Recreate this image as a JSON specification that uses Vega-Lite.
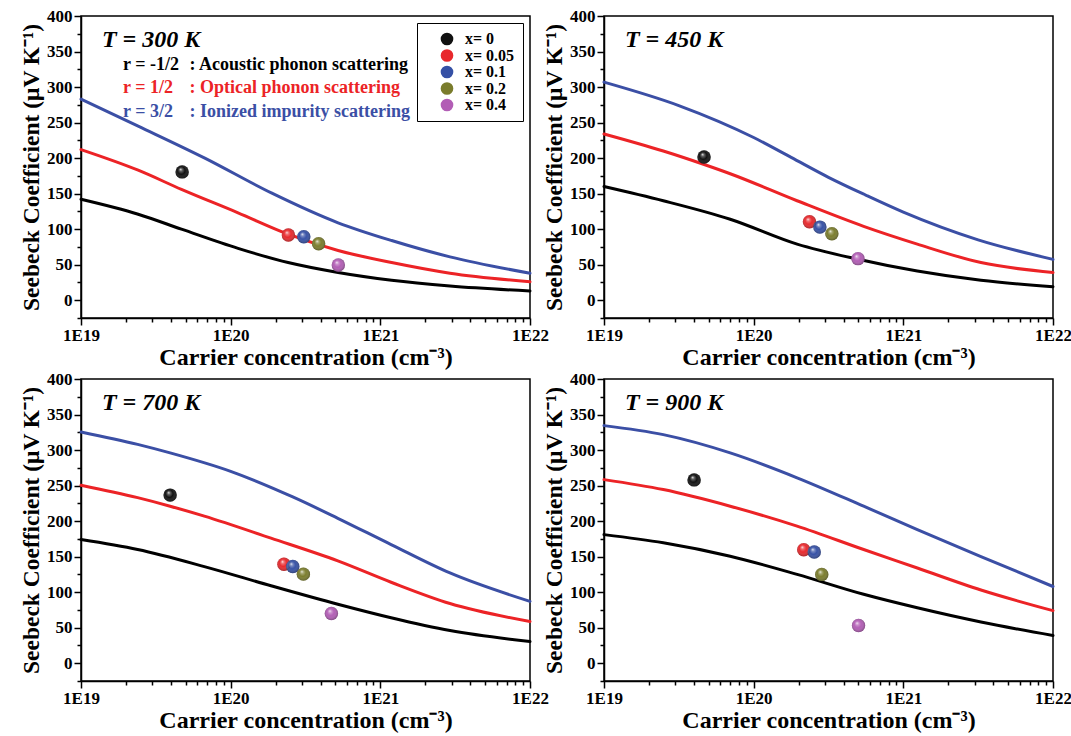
{
  "$schema": "https://vega.github.io/schema/vega-lite/v6.json",
  "background": "white",
  "padding": {"left": 18, "top": 6, "right": 5, "bottom": 5},
  "datasets": {
    "curves": [
      {"T": "300 K", "r": "-1/2", "n": 1e19, "S": 142},
      {"T": "300 K", "r": "-1/2", "n": 2.41e19, "S": 121},
      {"T": "300 K", "r": "-1/2", "n": 4.69e19, "S": 100},
      {"T": "300 K", "r": "-1/2", "n": 1.12e20, "S": 73},
      {"T": "300 K", "r": "-1/2", "n": 2.42e20, "S": 53},
      {"T": "300 K", "r": "-1/2", "n": 5.22e20, "S": 39},
      {"T": "300 K", "r": "-1/2", "n": 1.19e21, "S": 28},
      {"T": "300 K", "r": "-1/2", "n": 2.92e21, "S": 20},
      {"T": "300 K", "r": "-1/2", "n": 1e22, "S": 13},
      {"T": "300 K", "r": "1/2", "n": 1e19, "S": 212},
      {"T": "300 K", "r": "1/2", "n": 2.41e19, "S": 183},
      {"T": "300 K", "r": "1/2", "n": 4.69e19, "S": 156},
      {"T": "300 K", "r": "1/2", "n": 1.12e20, "S": 123},
      {"T": "300 K", "r": "1/2", "n": 2.42e20, "S": 93},
      {"T": "300 K", "r": "1/2", "n": 5.22e20, "S": 70},
      {"T": "300 K", "r": "1/2", "n": 1.19e21, "S": 53},
      {"T": "300 K", "r": "1/2", "n": 2.92e21, "S": 38},
      {"T": "300 K", "r": "1/2", "n": 1e22, "S": 26},
      {"T": "300 K", "r": "3/2", "n": 1e19, "S": 283},
      {"T": "300 K", "r": "3/2", "n": 2.41e19, "S": 245},
      {"T": "300 K", "r": "3/2", "n": 6.72e19, "S": 200},
      {"T": "300 K", "r": "3/2", "n": 1.87e20, "S": 151},
      {"T": "300 K", "r": "3/2", "n": 5.22e20, "S": 109},
      {"T": "300 K", "r": "3/2", "n": 1.19e21, "S": 84},
      {"T": "300 K", "r": "3/2", "n": 2.92e21, "S": 61},
      {"T": "300 K", "r": "3/2", "n": 1e22, "S": 38},

      {"T": "450 K", "r": "-1/2", "n": 1e19, "S": 160},
      {"T": "450 K", "r": "-1/2", "n": 2.49e19, "S": 140},
      {"T": "450 K", "r": "-1/2", "n": 6.97e19, "S": 114},
      {"T": "450 K", "r": "-1/2", "n": 1.95e20, "S": 79},
      {"T": "450 K", "r": "-1/2", "n": 4.9e20, "S": 58},
      {"T": "450 K", "r": "-1/2", "n": 1.24e21, "S": 41},
      {"T": "450 K", "r": "-1/2", "n": 3.3e21, "S": 28},
      {"T": "450 K", "r": "-1/2", "n": 1e22, "S": 19},
      {"T": "450 K", "r": "1/2", "n": 1e19, "S": 234},
      {"T": "450 K", "r": "1/2", "n": 2.49e19, "S": 210},
      {"T": "450 K", "r": "1/2", "n": 4.67e19, "S": 191},
      {"T": "450 K", "r": "1/2", "n": 6.97e19, "S": 178},
      {"T": "450 K", "r": "1/2", "n": 1.95e20, "S": 140},
      {"T": "450 K", "r": "1/2", "n": 5.43e20, "S": 104},
      {"T": "450 K", "r": "1/2", "n": 1.24e21, "S": 79},
      {"T": "450 K", "r": "1/2", "n": 3.3e21, "S": 53},
      {"T": "450 K", "r": "1/2", "n": 1e22, "S": 39},
      {"T": "450 K", "r": "3/2", "n": 1e19, "S": 307},
      {"T": "450 K", "r": "3/2", "n": 3.16e19, "S": 274},
      {"T": "450 K", "r": "3/2", "n": 1e20, "S": 229},
      {"T": "450 K", "r": "3/2", "n": 1.78e20, "S": 201},
      {"T": "450 K", "r": "3/2", "n": 3.16e20, "S": 173},
      {"T": "450 K", "r": "3/2", "n": 5.6e20, "S": 148},
      {"T": "450 K", "r": "3/2", "n": 1e21, "S": 124},
      {"T": "450 K", "r": "3/2", "n": 3.16e21, "S": 85},
      {"T": "450 K", "r": "3/2", "n": 1e22, "S": 57.5},

      {"T": "700 K", "r": "-1/2", "n": 1e19, "S": 174},
      {"T": "700 K", "r": "-1/2", "n": 2.39e19, "S": 160},
      {"T": "700 K", "r": "-1/2", "n": 6.67e19, "S": 136},
      {"T": "700 K", "r": "-1/2", "n": 1.86e20, "S": 109},
      {"T": "700 K", "r": "-1/2", "n": 5.2e20, "S": 83},
      {"T": "700 K", "r": "-1/2", "n": 1.18e21, "S": 64},
      {"T": "700 K", "r": "-1/2", "n": 2.92e21, "S": 46},
      {"T": "700 K", "r": "-1/2", "n": 1e22, "S": 30.5},
      {"T": "700 K", "r": "1/2", "n": 1e19, "S": 250.5},
      {"T": "700 K", "r": "1/2", "n": 2.39e19, "S": 233},
      {"T": "700 K", "r": "1/2", "n": 3.94e19, "S": 221},
      {"T": "700 K", "r": "1/2", "n": 6.67e19, "S": 207},
      {"T": "700 K", "r": "1/2", "n": 1.86e20, "S": 176},
      {"T": "700 K", "r": "1/2", "n": 5.2e20, "S": 144},
      {"T": "700 K", "r": "1/2", "n": 1.18e21, "S": 114},
      {"T": "700 K", "r": "1/2", "n": 2.92e21, "S": 84},
      {"T": "700 K", "r": "1/2", "n": 1e22, "S": 58.7},
      {"T": "700 K", "r": "3/2", "n": 1e19, "S": 325.5},
      {"T": "700 K", "r": "3/2", "n": 2.39e19, "S": 308},
      {"T": "700 K", "r": "3/2", "n": 3.94e19, "S": 296},
      {"T": "700 K", "r": "3/2", "n": 1e20, "S": 270},
      {"T": "700 K", "r": "3/2", "n": 2.6e20, "S": 234},
      {"T": "700 K", "r": "3/2", "n": 5.2e20, "S": 204},
      {"T": "700 K", "r": "3/2", "n": 1.18e21, "S": 167},
      {"T": "700 K", "r": "3/2", "n": 2.92e21, "S": 127},
      {"T": "700 K", "r": "3/2", "n": 1e22, "S": 87},

      {"T": "900 K", "r": "-1/2", "n": 1e19, "S": 181},
      {"T": "900 K", "r": "-1/2", "n": 2.49e19, "S": 169.5},
      {"T": "900 K", "r": "-1/2", "n": 6.97e19, "S": 150.6},
      {"T": "900 K", "r": "-1/2", "n": 1.95e20, "S": 125},
      {"T": "900 K", "r": "-1/2", "n": 5.43e20, "S": 97},
      {"T": "900 K", "r": "-1/2", "n": 1.24e21, "S": 78},
      {"T": "900 K", "r": "-1/2", "n": 3.3e21, "S": 58},
      {"T": "900 K", "r": "-1/2", "n": 1e22, "S": 39},
      {"T": "900 K", "r": "1/2", "n": 1e19, "S": 258.4},
      {"T": "900 K", "r": "1/2", "n": 2.49e19, "S": 244.4},
      {"T": "900 K", "r": "1/2", "n": 6.97e19, "S": 221},
      {"T": "900 K", "r": "1/2", "n": 1.95e20, "S": 193},
      {"T": "900 K", "r": "1/2", "n": 5.43e20, "S": 160},
      {"T": "900 K", "r": "1/2", "n": 1.24e21, "S": 134},
      {"T": "900 K", "r": "1/2", "n": 3.3e21, "S": 103},
      {"T": "900 K", "r": "1/2", "n": 1e22, "S": 74},
      {"T": "900 K", "r": "3/2", "n": 1e19, "S": 334.4},
      {"T": "900 K", "r": "3/2", "n": 2.49e19, "S": 321.7},
      {"T": "900 K", "r": "3/2", "n": 6.97e19, "S": 296},
      {"T": "900 K", "r": "3/2", "n": 1.95e20, "S": 261},
      {"T": "900 K", "r": "3/2", "n": 5.43e20, "S": 221},
      {"T": "900 K", "r": "3/2", "n": 1.24e21, "S": 188},
      {"T": "900 K", "r": "3/2", "n": 3.3e21, "S": 150},
      {"T": "900 K", "r": "3/2", "n": 1e22, "S": 108}
    ],
    "samples": [
      {"T": "300 K", "sample": "0", "n": 4.74e19, "S": 180.6},
      {"T": "300 K", "sample": "0.05", "n": 2.43e20, "S": 91.7},
      {"T": "300 K", "sample": "0.1", "n": 3.08e20, "S": 89.4},
      {"T": "300 K", "sample": "0.2", "n": 3.87e20, "S": 79.5},
      {"T": "300 K", "sample": "0.4", "n": 5.24e20, "S": 49.6},
      {"T": "450 K", "sample": "0", "n": 4.66e19, "S": 201.6},
      {"T": "450 K", "sample": "0.05", "n": 2.36e20, "S": 110.4},
      {"T": "450 K", "sample": "0.1", "n": 2.77e20, "S": 102.9},
      {"T": "450 K", "sample": "0.2", "n": 3.33e20, "S": 93.6},
      {"T": "450 K", "sample": "0.4", "n": 4.98e20, "S": 58.5},
      {"T": "700 K", "sample": "0", "n": 3.94e19, "S": 236.6},
      {"T": "700 K", "sample": "0.05", "n": 2.27e20, "S": 139.4},
      {"T": "700 K", "sample": "0.1", "n": 2.6e20, "S": 136.2},
      {"T": "700 K", "sample": "0.2", "n": 3.06e20, "S": 125.4},
      {"T": "700 K", "sample": "0.4", "n": 4.71e20, "S": 70},
      {"T": "900 K", "sample": "0", "n": 4.0e19, "S": 258},
      {"T": "900 K", "sample": "0.05", "n": 2.16e20, "S": 159.8},
      {"T": "900 K", "sample": "0.1", "n": 2.54e20, "S": 156.5},
      {"T": "900 K", "sample": "0.2", "n": 2.85e20, "S": 125},
      {"T": "900 K", "sample": "0.4", "n": 5.02e20, "S": 53}
    ]
  },
  "columns": 2,
  "bounds": "flush",
  "spacing": {"row": 61, "column": 74},
  "resolve": {"scale": {"color": "independent", "stroke": "independent"}, "legend": {"color": "independent", "stroke": "independent"}},
  "concat": [
    {
      "width": 449, "height": 302,
      "layer": [
        {"data": {"name": "curves"}, "transform": [{"filter": "datum.T == '300 K'"}],
          "mark": {"type": "line", "strokeWidth": 3, "interpolate": "monotone", "strokeCap": "round"},
          "encoding": {
            "x": {"field": "n", "type": "quantitative", "title": "Carrier concentration (cm⁻³)", "scale": {"type": "log", "domain": [1e19, 1e22], "nice": false}, "axis": {"values": [1e19,2e19,3e19,4e19,5e19,6e19,7e19,8e19,9e19,1e20,2e20,3e20,4e20,5e20,6e20,7e20,8e20,9e20,1e21,2e21,3e21,4e21,5e21,6e21,7e21,8e21,9e21,1e22], "labelExpr": "datum.value == 1e19 ? '1E19' : datum.value == 1e20 ? '1E20' : datum.value == 1e21 ? '1E21' : datum.value == 1e22 ? '1E22' : ''", "tickSize": {"condition": {"test": "datum.value == 1e19 || datum.value == 1e20 || datum.value == 1e21 || datum.value == 1e22", "value": 7}, "value": 4}}},
            "y": {"field": "S", "type": "quantitative", "title": "Seebeck Coefficient (μV K⁻¹)", "scale": {"domain": [-25, 400], "nice": false, "zero": false}, "axis": {"values": [-25,0,25,50,75,100,125,150,175,200,225,250,275,300,325,350,375,400], "labelExpr": "datum.value >= 0 && datum.value % 50 == 0 ? datum.label : ''", "tickSize": {"condition": {"test": "datum.value % 50 == 0", "value": 7}, "value": 4}}},
            "stroke": {"field": "r", "type": "nominal", "scale": {"domain": ["-1/2", "1/2", "3/2"], "range": ["#000000", "#ec2326", "#3b4fa5"]}, "legend": null}}},
        {"data": {"name": "samples"}, "transform": [{"filter": "datum.T == '300 K'"}],
          "mark": {"type": "point", "shape": "circle", "filled": true, "size": 180, "opacity": 1, "strokeWidth": 0},
          "encoding": {
            "x": {"field": "n", "type": "quantitative", "title": "Carrier concentration (cm⁻³)", "scale": {"type": "log", "domain": [1e19, 1e22], "nice": false}, "axis": {"values": [1e19,2e19,3e19,4e19,5e19,6e19,7e19,8e19,9e19,1e20,2e20,3e20,4e20,5e20,6e20,7e20,8e20,9e20,1e21,2e21,3e21,4e21,5e21,6e21,7e21,8e21,9e21,1e22], "labelExpr": "datum.value == 1e19 ? '1E19' : datum.value == 1e20 ? '1E20' : datum.value == 1e21 ? '1E21' : datum.value == 1e22 ? '1E22' : ''", "tickSize": {"condition": {"test": "datum.value == 1e19 || datum.value == 1e20 || datum.value == 1e21 || datum.value == 1e22", "value": 7}, "value": 4}}},
            "y": {"field": "S", "type": "quantitative", "title": "Seebeck Coefficient (μV K⁻¹)", "scale": {"domain": [-25, 400], "nice": false, "zero": false}, "axis": {"values": [-25,0,25,50,75,100,125,150,175,200,225,250,275,300,325,350,375,400], "labelExpr": "datum.value >= 0 && datum.value % 50 == 0 ? datum.label : ''", "tickSize": {"condition": {"test": "datum.value % 50 == 0", "value": 7}, "value": 4}}},
            "color": {"field": "sample", "type": "nominal",
              "scale": {"domain": ["0", "0.05", "0.1", "0.2", "0.4"], "range": ["#111111", "#e8282c", "#3550a5", "#7a7c2c", "#b25db5"]},
              "legend": {"orient": "top-right", "offset": 7, "title": null, "padding": 8, "strokeColor": "black", "fillColor": "white",
                "symbolType": "circle", "symbolSize": 160, "symbolStrokeWidth": 0, "symbolOffset": 14, "labelOffset": 10,
                "labelFont": "Liberation Serif", "labelFontSize": 16, "labelFontWeight": "bold", "labelColor": "black",
                "rowPadding": 0.5, "labelExpr": "'x= ' + datum.label + '\u00a0\u00a0\u00a0'"}}}},
        {"data": {"name": "samples"}, "transform": [{"filter": "datum.T == '300 K'"}],
          "mark": {"type": "point", "shape": "circle", "filled": true, "size": 180, "opacity": 1, "strokeWidth": 0,
            "fill": {"gradient": "radial", "x1": 0.38, "y1": 0.3, "r1": 0, "x2": 0.5, "y2": 0.5, "r2": 0.55,
              "stops": [{"offset": 0, "color": "rgba(255,255,255,0.95)"}, {"offset": 0.2, "color": "rgba(255,255,255,0.35)"}, {"offset": 0.5, "color": "rgba(255,255,255,0)"}, {"offset": 1, "color": "rgba(0,0,0,0.4)"}]}},
          "encoding": {
            "x": {"field": "n", "type": "quantitative", "title": "Carrier concentration (cm⁻³)", "scale": {"type": "log", "domain": [1e19, 1e22], "nice": false}, "axis": {"values": [1e19,2e19,3e19,4e19,5e19,6e19,7e19,8e19,9e19,1e20,2e20,3e20,4e20,5e20,6e20,7e20,8e20,9e20,1e21,2e21,3e21,4e21,5e21,6e21,7e21,8e21,9e21,1e22], "labelExpr": "datum.value == 1e19 ? '1E19' : datum.value == 1e20 ? '1E20' : datum.value == 1e21 ? '1E21' : datum.value == 1e22 ? '1E22' : ''", "tickSize": {"condition": {"test": "datum.value == 1e19 || datum.value == 1e20 || datum.value == 1e21 || datum.value == 1e22", "value": 7}, "value": 4}}},
            "y": {"field": "S", "type": "quantitative", "title": "Seebeck Coefficient (μV K⁻¹)", "scale": {"domain": [-25, 400], "nice": false, "zero": false}, "axis": {"values": [-25,0,25,50,75,100,125,150,175,200,225,250,275,300,325,350,375,400], "labelExpr": "datum.value >= 0 && datum.value % 50 == 0 ? datum.label : ''", "tickSize": {"condition": {"test": "datum.value % 50 == 0", "value": 7}, "value": 4}}}}},
        {"data": {"values": [{}]},
          "mark": {"type": "text", "align": "left", "baseline": "middle", "font": "Liberation Serif", "fontSize": 24, "fontWeight": "bold", "fontStyle": "italic", "color": "black"},
          "encoding": {
            "x": {"datum": 1.38e19, "type": "quantitative", "title": "Carrier concentration (cm⁻³)", "scale": {"type": "log", "domain": [1e19, 1e22], "nice": false}, "axis": {"values": [1e19,2e19,3e19,4e19,5e19,6e19,7e19,8e19,9e19,1e20,2e20,3e20,4e20,5e20,6e20,7e20,8e20,9e20,1e21,2e21,3e21,4e21,5e21,6e21,7e21,8e21,9e21,1e22], "labelExpr": "datum.value == 1e19 ? '1E19' : datum.value == 1e20 ? '1E20' : datum.value == 1e21 ? '1E21' : datum.value == 1e22 ? '1E22' : ''", "tickSize": {"condition": {"test": "datum.value == 1e19 || datum.value == 1e20 || datum.value == 1e21 || datum.value == 1e22", "value": 7}, "value": 4}}},
            "y": {"datum": 366, "type": "quantitative", "title": "Seebeck Coefficient (μV K⁻¹)", "scale": {"domain": [-25, 400], "nice": false, "zero": false}, "axis": {"values": [-25,0,25,50,75,100,125,150,175,200,225,250,275,300,325,350,375,400], "labelExpr": "datum.value >= 0 && datum.value % 50 == 0 ? datum.label : ''", "tickSize": {"condition": {"test": "datum.value % 50 == 0", "value": 7}, "value": 4}}},
            "text": {"value": "T = 300 K"}}},
        {"data": {"values": [{}]},
          "mark": {"type": "text", "align": "left", "baseline": "middle", "font": "Liberation Serif", "fontSize": 18, "fontWeight": "bold", "color": "black"},
          "encoding": {
            "x": {"datum": 1.91e19, "type": "quantitative", "title": "Carrier concentration (cm⁻³)", "scale": {"type": "log", "domain": [1e19, 1e22], "nice": false}, "axis": {"values": [1e19,2e19,3e19,4e19,5e19,6e19,7e19,8e19,9e19,1e20,2e20,3e20,4e20,5e20,6e20,7e20,8e20,9e20,1e21,2e21,3e21,4e21,5e21,6e21,7e21,8e21,9e21,1e22], "labelExpr": "datum.value == 1e19 ? '1E19' : datum.value == 1e20 ? '1E20' : datum.value == 1e21 ? '1E21' : datum.value == 1e22 ? '1E22' : ''", "tickSize": {"condition": {"test": "datum.value == 1e19 || datum.value == 1e20 || datum.value == 1e21 || datum.value == 1e22", "value": 7}, "value": 4}}},
            "y": {"datum": 331, "type": "quantitative", "title": "Seebeck Coefficient (μV K⁻¹)", "scale": {"domain": [-25, 400], "nice": false, "zero": false}, "axis": {"values": [-25,0,25,50,75,100,125,150,175,200,225,250,275,300,325,350,375,400], "labelExpr": "datum.value >= 0 && datum.value % 50 == 0 ? datum.label : ''", "tickSize": {"condition": {"test": "datum.value % 50 == 0", "value": 7}, "value": 4}}},
            "text": {"value": "r = -1/2"}}},
        {"data": {"values": [{}]},
          "mark": {"type": "text", "align": "left", "baseline": "middle", "font": "Liberation Serif", "fontSize": 18, "fontWeight": "bold", "color": "black"},
          "encoding": {
            "x": {"datum": 5.31e19, "type": "quantitative", "title": "Carrier concentration (cm⁻³)", "scale": {"type": "log", "domain": [1e19, 1e22], "nice": false}, "axis": {"values": [1e19,2e19,3e19,4e19,5e19,6e19,7e19,8e19,9e19,1e20,2e20,3e20,4e20,5e20,6e20,7e20,8e20,9e20,1e21,2e21,3e21,4e21,5e21,6e21,7e21,8e21,9e21,1e22], "labelExpr": "datum.value == 1e19 ? '1E19' : datum.value == 1e20 ? '1E20' : datum.value == 1e21 ? '1E21' : datum.value == 1e22 ? '1E22' : ''", "tickSize": {"condition": {"test": "datum.value == 1e19 || datum.value == 1e20 || datum.value == 1e21 || datum.value == 1e22", "value": 7}, "value": 4}}},
            "y": {"datum": 331, "type": "quantitative", "title": "Seebeck Coefficient (μV K⁻¹)", "scale": {"domain": [-25, 400], "nice": false, "zero": false}, "axis": {"values": [-25,0,25,50,75,100,125,150,175,200,225,250,275,300,325,350,375,400], "labelExpr": "datum.value >= 0 && datum.value % 50 == 0 ? datum.label : ''", "tickSize": {"condition": {"test": "datum.value % 50 == 0", "value": 7}, "value": 4}}},
            "text": {"value": ": Acoustic phonon scattering"}}},
        {"data": {"values": [{}]},
          "mark": {"type": "text", "align": "left", "baseline": "middle", "font": "Liberation Serif", "fontSize": 18, "fontWeight": "bold", "color": "#ec2326"},
          "encoding": {
            "x": {"datum": 1.91e19, "type": "quantitative", "title": "Carrier concentration (cm⁻³)", "scale": {"type": "log", "domain": [1e19, 1e22], "nice": false}, "axis": {"values": [1e19,2e19,3e19,4e19,5e19,6e19,7e19,8e19,9e19,1e20,2e20,3e20,4e20,5e20,6e20,7e20,8e20,9e20,1e21,2e21,3e21,4e21,5e21,6e21,7e21,8e21,9e21,1e22], "labelExpr": "datum.value == 1e19 ? '1E19' : datum.value == 1e20 ? '1E20' : datum.value == 1e21 ? '1E21' : datum.value == 1e22 ? '1E22' : ''", "tickSize": {"condition": {"test": "datum.value == 1e19 || datum.value == 1e20 || datum.value == 1e21 || datum.value == 1e22", "value": 7}, "value": 4}}},
            "y": {"datum": 298.3, "type": "quantitative", "title": "Seebeck Coefficient (μV K⁻¹)", "scale": {"domain": [-25, 400], "nice": false, "zero": false}, "axis": {"values": [-25,0,25,50,75,100,125,150,175,200,225,250,275,300,325,350,375,400], "labelExpr": "datum.value >= 0 && datum.value % 50 == 0 ? datum.label : ''", "tickSize": {"condition": {"test": "datum.value % 50 == 0", "value": 7}, "value": 4}}},
            "text": {"value": "r = 1/2"}}},
        {"data": {"values": [{}]},
          "mark": {"type": "text", "align": "left", "baseline": "middle", "font": "Liberation Serif", "fontSize": 18, "fontWeight": "bold", "color": "#ec2326"},
          "encoding": {
            "x": {"datum": 5.31e19, "type": "quantitative", "title": "Carrier concentration (cm⁻³)", "scale": {"type": "log", "domain": [1e19, 1e22], "nice": false}, "axis": {"values": [1e19,2e19,3e19,4e19,5e19,6e19,7e19,8e19,9e19,1e20,2e20,3e20,4e20,5e20,6e20,7e20,8e20,9e20,1e21,2e21,3e21,4e21,5e21,6e21,7e21,8e21,9e21,1e22], "labelExpr": "datum.value == 1e19 ? '1E19' : datum.value == 1e20 ? '1E20' : datum.value == 1e21 ? '1E21' : datum.value == 1e22 ? '1E22' : ''", "tickSize": {"condition": {"test": "datum.value == 1e19 || datum.value == 1e20 || datum.value == 1e21 || datum.value == 1e22", "value": 7}, "value": 4}}},
            "y": {"datum": 298.3, "type": "quantitative", "title": "Seebeck Coefficient (μV K⁻¹)", "scale": {"domain": [-25, 400], "nice": false, "zero": false}, "axis": {"values": [-25,0,25,50,75,100,125,150,175,200,225,250,275,300,325,350,375,400], "labelExpr": "datum.value >= 0 && datum.value % 50 == 0 ? datum.label : ''", "tickSize": {"condition": {"test": "datum.value % 50 == 0", "value": 7}, "value": 4}}},
            "text": {"value": ": Optical phonon scattering"}}},
        {"data": {"values": [{}]},
          "mark": {"type": "text", "align": "left", "baseline": "middle", "font": "Liberation Serif", "fontSize": 18, "fontWeight": "bold", "color": "#3b4fa5"},
          "encoding": {
            "x": {"datum": 1.91e19, "type": "quantitative", "title": "Carrier concentration (cm⁻³)", "scale": {"type": "log", "domain": [1e19, 1e22], "nice": false}, "axis": {"values": [1e19,2e19,3e19,4e19,5e19,6e19,7e19,8e19,9e19,1e20,2e20,3e20,4e20,5e20,6e20,7e20,8e20,9e20,1e21,2e21,3e21,4e21,5e21,6e21,7e21,8e21,9e21,1e22], "labelExpr": "datum.value == 1e19 ? '1E19' : datum.value == 1e20 ? '1E20' : datum.value == 1e21 ? '1E21' : datum.value == 1e22 ? '1E22' : ''", "tickSize": {"condition": {"test": "datum.value == 1e19 || datum.value == 1e20 || datum.value == 1e21 || datum.value == 1e22", "value": 7}, "value": 4}}},
            "y": {"datum": 265.3, "type": "quantitative", "title": "Seebeck Coefficient (μV K⁻¹)", "scale": {"domain": [-25, 400], "nice": false, "zero": false}, "axis": {"values": [-25,0,25,50,75,100,125,150,175,200,225,250,275,300,325,350,375,400], "labelExpr": "datum.value >= 0 && datum.value % 50 == 0 ? datum.label : ''", "tickSize": {"condition": {"test": "datum.value % 50 == 0", "value": 7}, "value": 4}}},
            "text": {"value": "r = 3/2"}}},
        {"data": {"values": [{}]},
          "mark": {"type": "text", "align": "left", "baseline": "middle", "font": "Liberation Serif", "fontSize": 18, "fontWeight": "bold", "color": "#3b4fa5"},
          "encoding": {
            "x": {"datum": 5.31e19, "type": "quantitative", "title": "Carrier concentration (cm⁻³)", "scale": {"type": "log", "domain": [1e19, 1e22], "nice": false}, "axis": {"values": [1e19,2e19,3e19,4e19,5e19,6e19,7e19,8e19,9e19,1e20,2e20,3e20,4e20,5e20,6e20,7e20,8e20,9e20,1e21,2e21,3e21,4e21,5e21,6e21,7e21,8e21,9e21,1e22], "labelExpr": "datum.value == 1e19 ? '1E19' : datum.value == 1e20 ? '1E20' : datum.value == 1e21 ? '1E21' : datum.value == 1e22 ? '1E22' : ''", "tickSize": {"condition": {"test": "datum.value == 1e19 || datum.value == 1e20 || datum.value == 1e21 || datum.value == 1e22", "value": 7}, "value": 4}}},
            "y": {"datum": 265.3, "type": "quantitative", "title": "Seebeck Coefficient (μV K⁻¹)", "scale": {"domain": [-25, 400], "nice": false, "zero": false}, "axis": {"values": [-25,0,25,50,75,100,125,150,175,200,225,250,275,300,325,350,375,400], "labelExpr": "datum.value >= 0 && datum.value % 50 == 0 ? datum.label : ''", "tickSize": {"condition": {"test": "datum.value % 50 == 0", "value": 7}, "value": 4}}},
            "text": {"value": ": Ionized impurity scattering"}}}
      ]
    },
    {
      "width": 449, "height": 302,
      "layer": [
        {"data": {"name": "curves"}, "transform": [{"filter": "datum.T == '450 K'"}],
          "mark": {"type": "line", "strokeWidth": 3, "interpolate": "monotone", "strokeCap": "round"},
          "encoding": {
            "x": {"field": "n", "type": "quantitative", "title": "Carrier concentration (cm⁻³)", "scale": {"type": "log", "domain": [1e19, 1e22], "nice": false}, "axis": {"values": [1e19,2e19,3e19,4e19,5e19,6e19,7e19,8e19,9e19,1e20,2e20,3e20,4e20,5e20,6e20,7e20,8e20,9e20,1e21,2e21,3e21,4e21,5e21,6e21,7e21,8e21,9e21,1e22], "labelExpr": "datum.value == 1e19 ? '1E19' : datum.value == 1e20 ? '1E20' : datum.value == 1e21 ? '1E21' : datum.value == 1e22 ? '1E22' : ''", "tickSize": {"condition": {"test": "datum.value == 1e19 || datum.value == 1e20 || datum.value == 1e21 || datum.value == 1e22", "value": 7}, "value": 4}}},
            "y": {"field": "S", "type": "quantitative", "title": "Seebeck Coefficient (μV K⁻¹)", "scale": {"domain": [-25, 400], "nice": false, "zero": false}, "axis": {"values": [-25,0,25,50,75,100,125,150,175,200,225,250,275,300,325,350,375,400], "labelExpr": "datum.value >= 0 && datum.value % 50 == 0 ? datum.label : ''", "tickSize": {"condition": {"test": "datum.value % 50 == 0", "value": 7}, "value": 4}}},
            "stroke": {"field": "r", "type": "nominal", "scale": {"domain": ["-1/2", "1/2", "3/2"], "range": ["#000000", "#ec2326", "#3b4fa5"]}, "legend": null}}},
        {"data": {"name": "samples"}, "transform": [{"filter": "datum.T == '450 K'"}],
          "mark": {"type": "point", "shape": "circle", "filled": true, "size": 180, "opacity": 1, "strokeWidth": 0},
          "encoding": {
            "x": {"field": "n", "type": "quantitative", "title": "Carrier concentration (cm⁻³)", "scale": {"type": "log", "domain": [1e19, 1e22], "nice": false}, "axis": {"values": [1e19,2e19,3e19,4e19,5e19,6e19,7e19,8e19,9e19,1e20,2e20,3e20,4e20,5e20,6e20,7e20,8e20,9e20,1e21,2e21,3e21,4e21,5e21,6e21,7e21,8e21,9e21,1e22], "labelExpr": "datum.value == 1e19 ? '1E19' : datum.value == 1e20 ? '1E20' : datum.value == 1e21 ? '1E21' : datum.value == 1e22 ? '1E22' : ''", "tickSize": {"condition": {"test": "datum.value == 1e19 || datum.value == 1e20 || datum.value == 1e21 || datum.value == 1e22", "value": 7}, "value": 4}}},
            "y": {"field": "S", "type": "quantitative", "title": "Seebeck Coefficient (μV K⁻¹)", "scale": {"domain": [-25, 400], "nice": false, "zero": false}, "axis": {"values": [-25,0,25,50,75,100,125,150,175,200,225,250,275,300,325,350,375,400], "labelExpr": "datum.value >= 0 && datum.value % 50 == 0 ? datum.label : ''", "tickSize": {"condition": {"test": "datum.value % 50 == 0", "value": 7}, "value": 4}}},
            "color": {"field": "sample", "type": "nominal", "scale": {"domain": ["0", "0.05", "0.1", "0.2", "0.4"], "range": ["#111111", "#e8282c", "#3550a5", "#7a7c2c", "#b25db5"]}, "legend": null}}},
        {"data": {"name": "samples"}, "transform": [{"filter": "datum.T == '450 K'"}],
          "mark": {"type": "point", "shape": "circle", "filled": true, "size": 180, "opacity": 1, "strokeWidth": 0,
            "fill": {"gradient": "radial", "x1": 0.38, "y1": 0.3, "r1": 0, "x2": 0.5, "y2": 0.5, "r2": 0.55,
              "stops": [{"offset": 0, "color": "rgba(255,255,255,0.95)"}, {"offset": 0.2, "color": "rgba(255,255,255,0.35)"}, {"offset": 0.5, "color": "rgba(255,255,255,0)"}, {"offset": 1, "color": "rgba(0,0,0,0.4)"}]}},
          "encoding": {
            "x": {"field": "n", "type": "quantitative", "title": "Carrier concentration (cm⁻³)", "scale": {"type": "log", "domain": [1e19, 1e22], "nice": false}, "axis": {"values": [1e19,2e19,3e19,4e19,5e19,6e19,7e19,8e19,9e19,1e20,2e20,3e20,4e20,5e20,6e20,7e20,8e20,9e20,1e21,2e21,3e21,4e21,5e21,6e21,7e21,8e21,9e21,1e22], "labelExpr": "datum.value == 1e19 ? '1E19' : datum.value == 1e20 ? '1E20' : datum.value == 1e21 ? '1E21' : datum.value == 1e22 ? '1E22' : ''", "tickSize": {"condition": {"test": "datum.value == 1e19 || datum.value == 1e20 || datum.value == 1e21 || datum.value == 1e22", "value": 7}, "value": 4}}},
            "y": {"field": "S", "type": "quantitative", "title": "Seebeck Coefficient (μV K⁻¹)", "scale": {"domain": [-25, 400], "nice": false, "zero": false}, "axis": {"values": [-25,0,25,50,75,100,125,150,175,200,225,250,275,300,325,350,375,400], "labelExpr": "datum.value >= 0 && datum.value % 50 == 0 ? datum.label : ''", "tickSize": {"condition": {"test": "datum.value % 50 == 0", "value": 7}, "value": 4}}}}},
        {"data": {"values": [{}]},
          "mark": {"type": "text", "align": "left", "baseline": "middle", "font": "Liberation Serif", "fontSize": 24, "fontWeight": "bold", "fontStyle": "italic", "color": "black"},
          "encoding": {
            "x": {"datum": 1.38e19, "type": "quantitative", "title": "Carrier concentration (cm⁻³)", "scale": {"type": "log", "domain": [1e19, 1e22], "nice": false}, "axis": {"values": [1e19,2e19,3e19,4e19,5e19,6e19,7e19,8e19,9e19,1e20,2e20,3e20,4e20,5e20,6e20,7e20,8e20,9e20,1e21,2e21,3e21,4e21,5e21,6e21,7e21,8e21,9e21,1e22], "labelExpr": "datum.value == 1e19 ? '1E19' : datum.value == 1e20 ? '1E20' : datum.value == 1e21 ? '1E21' : datum.value == 1e22 ? '1E22' : ''", "tickSize": {"condition": {"test": "datum.value == 1e19 || datum.value == 1e20 || datum.value == 1e21 || datum.value == 1e22", "value": 7}, "value": 4}}},
            "y": {"datum": 366, "type": "quantitative", "title": "Seebeck Coefficient (μV K⁻¹)", "scale": {"domain": [-25, 400], "nice": false, "zero": false}, "axis": {"values": [-25,0,25,50,75,100,125,150,175,200,225,250,275,300,325,350,375,400], "labelExpr": "datum.value >= 0 && datum.value % 50 == 0 ? datum.label : ''", "tickSize": {"condition": {"test": "datum.value % 50 == 0", "value": 7}, "value": 4}}},
            "text": {"value": "T = 450 K"}}}
      ]
    },
    {
      "width": 449, "height": 302,
      "layer": [
        {"data": {"name": "curves"}, "transform": [{"filter": "datum.T == '700 K'"}],
          "mark": {"type": "line", "strokeWidth": 3, "interpolate": "monotone", "strokeCap": "round"},
          "encoding": {
            "x": {"field": "n", "type": "quantitative", "title": "Carrier concentration (cm⁻³)", "scale": {"type": "log", "domain": [1e19, 1e22], "nice": false}, "axis": {"values": [1e19,2e19,3e19,4e19,5e19,6e19,7e19,8e19,9e19,1e20,2e20,3e20,4e20,5e20,6e20,7e20,8e20,9e20,1e21,2e21,3e21,4e21,5e21,6e21,7e21,8e21,9e21,1e22], "labelExpr": "datum.value == 1e19 ? '1E19' : datum.value == 1e20 ? '1E20' : datum.value == 1e21 ? '1E21' : datum.value == 1e22 ? '1E22' : ''", "tickSize": {"condition": {"test": "datum.value == 1e19 || datum.value == 1e20 || datum.value == 1e21 || datum.value == 1e22", "value": 7}, "value": 4}}},
            "y": {"field": "S", "type": "quantitative", "title": "Seebeck Coefficient (μV K⁻¹)", "scale": {"domain": [-25, 400], "nice": false, "zero": false}, "axis": {"values": [-25,0,25,50,75,100,125,150,175,200,225,250,275,300,325,350,375,400], "labelExpr": "datum.value >= 0 && datum.value % 50 == 0 ? datum.label : ''", "tickSize": {"condition": {"test": "datum.value % 50 == 0", "value": 7}, "value": 4}}},
            "stroke": {"field": "r", "type": "nominal", "scale": {"domain": ["-1/2", "1/2", "3/2"], "range": ["#000000", "#ec2326", "#3b4fa5"]}, "legend": null}}},
        {"data": {"name": "samples"}, "transform": [{"filter": "datum.T == '700 K'"}],
          "mark": {"type": "point", "shape": "circle", "filled": true, "size": 180, "opacity": 1, "strokeWidth": 0},
          "encoding": {
            "x": {"field": "n", "type": "quantitative", "title": "Carrier concentration (cm⁻³)", "scale": {"type": "log", "domain": [1e19, 1e22], "nice": false}, "axis": {"values": [1e19,2e19,3e19,4e19,5e19,6e19,7e19,8e19,9e19,1e20,2e20,3e20,4e20,5e20,6e20,7e20,8e20,9e20,1e21,2e21,3e21,4e21,5e21,6e21,7e21,8e21,9e21,1e22], "labelExpr": "datum.value == 1e19 ? '1E19' : datum.value == 1e20 ? '1E20' : datum.value == 1e21 ? '1E21' : datum.value == 1e22 ? '1E22' : ''", "tickSize": {"condition": {"test": "datum.value == 1e19 || datum.value == 1e20 || datum.value == 1e21 || datum.value == 1e22", "value": 7}, "value": 4}}},
            "y": {"field": "S", "type": "quantitative", "title": "Seebeck Coefficient (μV K⁻¹)", "scale": {"domain": [-25, 400], "nice": false, "zero": false}, "axis": {"values": [-25,0,25,50,75,100,125,150,175,200,225,250,275,300,325,350,375,400], "labelExpr": "datum.value >= 0 && datum.value % 50 == 0 ? datum.label : ''", "tickSize": {"condition": {"test": "datum.value % 50 == 0", "value": 7}, "value": 4}}},
            "color": {"field": "sample", "type": "nominal", "scale": {"domain": ["0", "0.05", "0.1", "0.2", "0.4"], "range": ["#111111", "#e8282c", "#3550a5", "#7a7c2c", "#b25db5"]}, "legend": null}}},
        {"data": {"name": "samples"}, "transform": [{"filter": "datum.T == '700 K'"}],
          "mark": {"type": "point", "shape": "circle", "filled": true, "size": 180, "opacity": 1, "strokeWidth": 0,
            "fill": {"gradient": "radial", "x1": 0.38, "y1": 0.3, "r1": 0, "x2": 0.5, "y2": 0.5, "r2": 0.55,
              "stops": [{"offset": 0, "color": "rgba(255,255,255,0.95)"}, {"offset": 0.2, "color": "rgba(255,255,255,0.35)"}, {"offset": 0.5, "color": "rgba(255,255,255,0)"}, {"offset": 1, "color": "rgba(0,0,0,0.4)"}]}},
          "encoding": {
            "x": {"field": "n", "type": "quantitative", "title": "Carrier concentration (cm⁻³)", "scale": {"type": "log", "domain": [1e19, 1e22], "nice": false}, "axis": {"values": [1e19,2e19,3e19,4e19,5e19,6e19,7e19,8e19,9e19,1e20,2e20,3e20,4e20,5e20,6e20,7e20,8e20,9e20,1e21,2e21,3e21,4e21,5e21,6e21,7e21,8e21,9e21,1e22], "labelExpr": "datum.value == 1e19 ? '1E19' : datum.value == 1e20 ? '1E20' : datum.value == 1e21 ? '1E21' : datum.value == 1e22 ? '1E22' : ''", "tickSize": {"condition": {"test": "datum.value == 1e19 || datum.value == 1e20 || datum.value == 1e21 || datum.value == 1e22", "value": 7}, "value": 4}}},
            "y": {"field": "S", "type": "quantitative", "title": "Seebeck Coefficient (μV K⁻¹)", "scale": {"domain": [-25, 400], "nice": false, "zero": false}, "axis": {"values": [-25,0,25,50,75,100,125,150,175,200,225,250,275,300,325,350,375,400], "labelExpr": "datum.value >= 0 && datum.value % 50 == 0 ? datum.label : ''", "tickSize": {"condition": {"test": "datum.value % 50 == 0", "value": 7}, "value": 4}}}}},
        {"data": {"values": [{}]},
          "mark": {"type": "text", "align": "left", "baseline": "middle", "font": "Liberation Serif", "fontSize": 24, "fontWeight": "bold", "fontStyle": "italic", "color": "black"},
          "encoding": {
            "x": {"datum": 1.38e19, "type": "quantitative", "title": "Carrier concentration (cm⁻³)", "scale": {"type": "log", "domain": [1e19, 1e22], "nice": false}, "axis": {"values": [1e19,2e19,3e19,4e19,5e19,6e19,7e19,8e19,9e19,1e20,2e20,3e20,4e20,5e20,6e20,7e20,8e20,9e20,1e21,2e21,3e21,4e21,5e21,6e21,7e21,8e21,9e21,1e22], "labelExpr": "datum.value == 1e19 ? '1E19' : datum.value == 1e20 ? '1E20' : datum.value == 1e21 ? '1E21' : datum.value == 1e22 ? '1E22' : ''", "tickSize": {"condition": {"test": "datum.value == 1e19 || datum.value == 1e20 || datum.value == 1e21 || datum.value == 1e22", "value": 7}, "value": 4}}},
            "y": {"datum": 366, "type": "quantitative", "title": "Seebeck Coefficient (μV K⁻¹)", "scale": {"domain": [-25, 400], "nice": false, "zero": false}, "axis": {"values": [-25,0,25,50,75,100,125,150,175,200,225,250,275,300,325,350,375,400], "labelExpr": "datum.value >= 0 && datum.value % 50 == 0 ? datum.label : ''", "tickSize": {"condition": {"test": "datum.value % 50 == 0", "value": 7}, "value": 4}}},
            "text": {"value": "T = 700 K"}}}
      ]
    },
    {
      "width": 449, "height": 302,
      "layer": [
        {"data": {"name": "curves"}, "transform": [{"filter": "datum.T == '900 K'"}],
          "mark": {"type": "line", "strokeWidth": 3, "interpolate": "monotone", "strokeCap": "round"},
          "encoding": {
            "x": {"field": "n", "type": "quantitative", "title": "Carrier concentration (cm⁻³)", "scale": {"type": "log", "domain": [1e19, 1e22], "nice": false}, "axis": {"values": [1e19,2e19,3e19,4e19,5e19,6e19,7e19,8e19,9e19,1e20,2e20,3e20,4e20,5e20,6e20,7e20,8e20,9e20,1e21,2e21,3e21,4e21,5e21,6e21,7e21,8e21,9e21,1e22], "labelExpr": "datum.value == 1e19 ? '1E19' : datum.value == 1e20 ? '1E20' : datum.value == 1e21 ? '1E21' : datum.value == 1e22 ? '1E22' : ''", "tickSize": {"condition": {"test": "datum.value == 1e19 || datum.value == 1e20 || datum.value == 1e21 || datum.value == 1e22", "value": 7}, "value": 4}}},
            "y": {"field": "S", "type": "quantitative", "title": "Seebeck Coefficient (μV K⁻¹)", "scale": {"domain": [-25, 400], "nice": false, "zero": false}, "axis": {"values": [-25,0,25,50,75,100,125,150,175,200,225,250,275,300,325,350,375,400], "labelExpr": "datum.value >= 0 && datum.value % 50 == 0 ? datum.label : ''", "tickSize": {"condition": {"test": "datum.value % 50 == 0", "value": 7}, "value": 4}}},
            "stroke": {"field": "r", "type": "nominal", "scale": {"domain": ["-1/2", "1/2", "3/2"], "range": ["#000000", "#ec2326", "#3b4fa5"]}, "legend": null}}},
        {"data": {"name": "samples"}, "transform": [{"filter": "datum.T == '900 K'"}],
          "mark": {"type": "point", "shape": "circle", "filled": true, "size": 180, "opacity": 1, "strokeWidth": 0},
          "encoding": {
            "x": {"field": "n", "type": "quantitative", "title": "Carrier concentration (cm⁻³)", "scale": {"type": "log", "domain": [1e19, 1e22], "nice": false}, "axis": {"values": [1e19,2e19,3e19,4e19,5e19,6e19,7e19,8e19,9e19,1e20,2e20,3e20,4e20,5e20,6e20,7e20,8e20,9e20,1e21,2e21,3e21,4e21,5e21,6e21,7e21,8e21,9e21,1e22], "labelExpr": "datum.value == 1e19 ? '1E19' : datum.value == 1e20 ? '1E20' : datum.value == 1e21 ? '1E21' : datum.value == 1e22 ? '1E22' : ''", "tickSize": {"condition": {"test": "datum.value == 1e19 || datum.value == 1e20 || datum.value == 1e21 || datum.value == 1e22", "value": 7}, "value": 4}}},
            "y": {"field": "S", "type": "quantitative", "title": "Seebeck Coefficient (μV K⁻¹)", "scale": {"domain": [-25, 400], "nice": false, "zero": false}, "axis": {"values": [-25,0,25,50,75,100,125,150,175,200,225,250,275,300,325,350,375,400], "labelExpr": "datum.value >= 0 && datum.value % 50 == 0 ? datum.label : ''", "tickSize": {"condition": {"test": "datum.value % 50 == 0", "value": 7}, "value": 4}}},
            "color": {"field": "sample", "type": "nominal", "scale": {"domain": ["0", "0.05", "0.1", "0.2", "0.4"], "range": ["#111111", "#e8282c", "#3550a5", "#7a7c2c", "#b25db5"]}, "legend": null}}},
        {"data": {"name": "samples"}, "transform": [{"filter": "datum.T == '900 K'"}],
          "mark": {"type": "point", "shape": "circle", "filled": true, "size": 180, "opacity": 1, "strokeWidth": 0,
            "fill": {"gradient": "radial", "x1": 0.38, "y1": 0.3, "r1": 0, "x2": 0.5, "y2": 0.5, "r2": 0.55,
              "stops": [{"offset": 0, "color": "rgba(255,255,255,0.95)"}, {"offset": 0.2, "color": "rgba(255,255,255,0.35)"}, {"offset": 0.5, "color": "rgba(255,255,255,0)"}, {"offset": 1, "color": "rgba(0,0,0,0.4)"}]}},
          "encoding": {
            "x": {"field": "n", "type": "quantitative", "title": "Carrier concentration (cm⁻³)", "scale": {"type": "log", "domain": [1e19, 1e22], "nice": false}, "axis": {"values": [1e19,2e19,3e19,4e19,5e19,6e19,7e19,8e19,9e19,1e20,2e20,3e20,4e20,5e20,6e20,7e20,8e20,9e20,1e21,2e21,3e21,4e21,5e21,6e21,7e21,8e21,9e21,1e22], "labelExpr": "datum.value == 1e19 ? '1E19' : datum.value == 1e20 ? '1E20' : datum.value == 1e21 ? '1E21' : datum.value == 1e22 ? '1E22' : ''", "tickSize": {"condition": {"test": "datum.value == 1e19 || datum.value == 1e20 || datum.value == 1e21 || datum.value == 1e22", "value": 7}, "value": 4}}},
            "y": {"field": "S", "type": "quantitative", "title": "Seebeck Coefficient (μV K⁻¹)", "scale": {"domain": [-25, 400], "nice": false, "zero": false}, "axis": {"values": [-25,0,25,50,75,100,125,150,175,200,225,250,275,300,325,350,375,400], "labelExpr": "datum.value >= 0 && datum.value % 50 == 0 ? datum.label : ''", "tickSize": {"condition": {"test": "datum.value % 50 == 0", "value": 7}, "value": 4}}}}},
        {"data": {"values": [{}]},
          "mark": {"type": "text", "align": "left", "baseline": "middle", "font": "Liberation Serif", "fontSize": 24, "fontWeight": "bold", "fontStyle": "italic", "color": "black"},
          "encoding": {
            "x": {"datum": 1.38e19, "type": "quantitative", "title": "Carrier concentration (cm⁻³)", "scale": {"type": "log", "domain": [1e19, 1e22], "nice": false}, "axis": {"values": [1e19,2e19,3e19,4e19,5e19,6e19,7e19,8e19,9e19,1e20,2e20,3e20,4e20,5e20,6e20,7e20,8e20,9e20,1e21,2e21,3e21,4e21,5e21,6e21,7e21,8e21,9e21,1e22], "labelExpr": "datum.value == 1e19 ? '1E19' : datum.value == 1e20 ? '1E20' : datum.value == 1e21 ? '1E21' : datum.value == 1e22 ? '1E22' : ''", "tickSize": {"condition": {"test": "datum.value == 1e19 || datum.value == 1e20 || datum.value == 1e21 || datum.value == 1e22", "value": 7}, "value": 4}}},
            "y": {"datum": 366, "type": "quantitative", "title": "Seebeck Coefficient (μV K⁻¹)", "scale": {"domain": [-25, 400], "nice": false, "zero": false}, "axis": {"values": [-25,0,25,50,75,100,125,150,175,200,225,250,275,300,325,350,375,400], "labelExpr": "datum.value >= 0 && datum.value % 50 == 0 ? datum.label : ''", "tickSize": {"condition": {"test": "datum.value % 50 == 0", "value": 7}, "value": 4}}},
            "text": {"value": "T = 900 K"}}}
      ]
    }
  ],
  "config": {
    "view": {"stroke": "black", "strokeWidth": 1.5},
    "axis": {
      "grid": false, "domainColor": "black", "domainWidth": 1.5, "tickColor": "black", "tickWidth": 1.5,
      "labelFont": "Liberation Serif", "labelFontWeight": "bold", "labelFontSize": 17, "labelColor": "black",
      "labelOverlap": false, "labelFlush": false, "labelBound": false, "labelPadding": 2,
      "titleFont": "Liberation Serif", "titleFontWeight": "bold", "titleColor": "black"
    },
    "axisX": {"titlePadding": 2, "titleFontSize": 24},
    "axisY": {"titlePadding": 3, "titleFontSize": 23.5}
  }
}
